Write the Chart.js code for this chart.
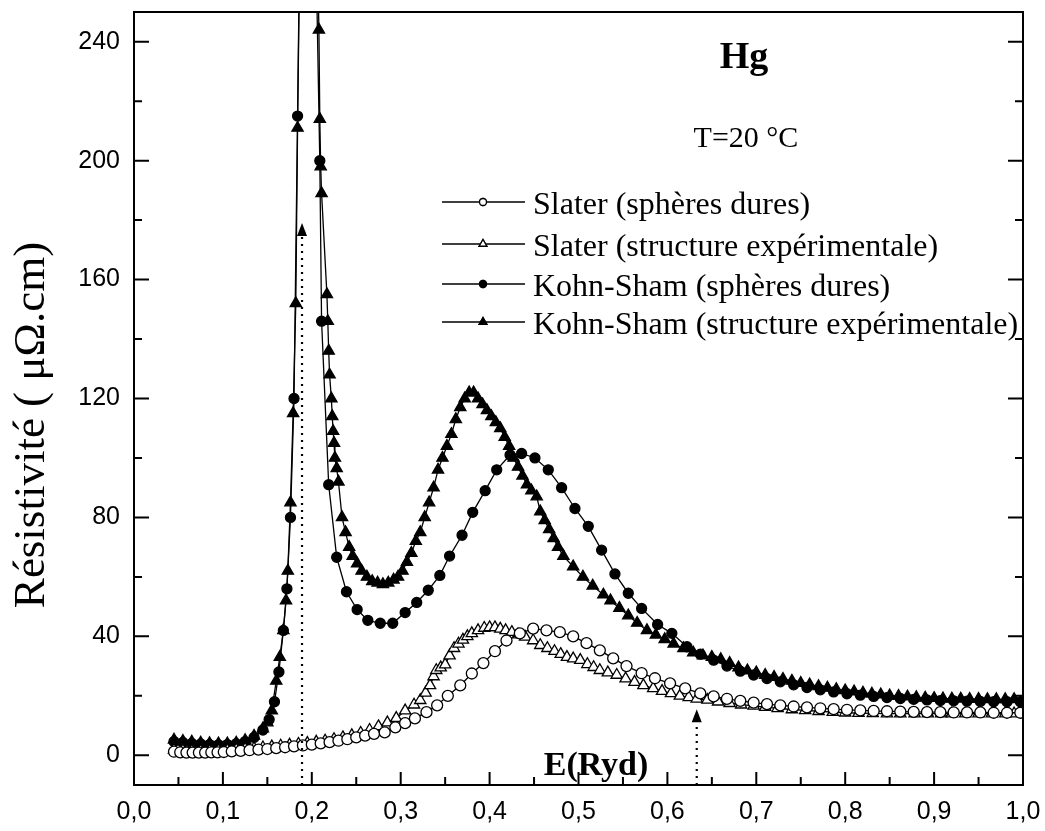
<!DOCTYPE html>
<html><head><meta charset="utf-8">
<script src="https://cdn.jsdelivr.net/npm/chart.js@4"></script>
<style>html,body{margin:0;padding:0;background:#fff;overflow:hidden}</style>
</head><body>
<canvas id="c" width="1045" height="831"></canvas>
<script>
// ---------- data ----------
const seriesLabels = ['Slater (sphères dures)', 'Slater (structure expérimentale)', 'Kohn-Sham (sphères dures)', 'Kohn-Sham (structure expérimentale)'];

const slaterHsX = [0.045,0.052,0.059,0.066,0.073,0.080,0.087,0.094,0.101,0.110,0.120,0.130,0.140,0.150,0.160,0.170,0.180,0.190,0.200,0.210,0.220,0.230,0.240,0.250,0.260,0.270,0.282,0.294,0.305,0.316,0.329,0.341,0.353,0.367,0.380,0.393,0.406,0.419,0.434,0.449,0.464,0.479,0.494,0.509,0.524,0.539,0.554,0.571,0.586,0.603,0.620,0.637,0.652,0.667,0.682,0.697,0.712,0.727,0.742,0.757,0.772,0.787,0.802,0.817,0.832,0.847,0.862,0.877,0.892,0.907,0.922,0.937,0.952,0.967,0.982,0.997];
const slaterHsY = [1.2,1.0,0.9,0.9,0.9,0.9,1.0,1.0,1.1,1.3,1.5,1.7,1.9,2.1,2.4,2.7,3.0,3.3,3.6,4.0,4.4,4.9,5.4,6.0,6.6,7.2,7.7,9.4,10.8,12.4,14.5,16.8,20,23.5,27.5,31,35,38.6,41,42.6,42,41.4,40,37.7,35.3,32.6,30,27.6,25.9,24.2,22.5,20.8,19.8,19,18.3,17.7,17.2,16.8,16.4,16.1,15.8,15.5,15.3,15.1,14.9,14.8,14.7,14.6,14.5,14.5,14.4,14.4,14.4,14.3,14.3,14.3];

const slaterExpX = [0.045,0.055,0.065,0.075,0.085,0.095,0.105,0.115,0.125,0.135,0.145,0.155,0.165,0.175,0.185,0.195,0.205,0.215,0.225,0.235,0.245,0.255,0.265,0.275,0.285,0.295,0.305,0.315,0.322,0.328,0.333,0.337,0.340,0.345,0.350,0.355,0.360,0.365,0.370,0.375,0.380,0.387,0.394,0.400,0.406,0.412,0.418,0.425,0.432,0.440,0.449,0.457,0.465,0.473,0.480,0.487,0.494,0.502,0.510,0.517,0.524,0.533,0.543,0.553,0.563,0.573,0.584,0.594,0.604,0.614,0.624,0.633,0.645,0.657,0.670,0.683,0.697,0.710,0.724,0.740,0.755,0.770,0.786,0.800,0.815,0.831,0.847,0.862,0.878,0.893,0.908,0.920,0.935,0.950,0.965,0.980,0.990];
const slaterExpY = [1.8,1.6,1.5,1.5,1.5,1.6,1.7,1.9,2.1,2.3,2.6,2.9,3.2,3.5,3.8,4.1,4.5,4.9,5.4,6.0,6.7,7.5,8.5,9.7,11,12.5,15,17,18.5,21,23.5,26.5,28.6,29.5,30.5,33.5,36,37.5,38.8,40,41,42,42.8,43,43,42.5,42,41.4,40.6,39.8,38.6,37,36,35,34,33,32.5,32,30.6,29.6,28.6,27.8,27,25.8,24.6,23.5,22.5,21.6,20.8,20,19.5,19,18.6,18,17.5,17,16.6,16.2,15.8,15.4,15.1,14.8,14.5,14.3,14.2,14.1,14,14,14,14,14,14,14,14,14,14,14];

const ksHsX = [0.045,0.055,0.065,0.075,0.085,0.095,0.105,0.115,0.125,0.135,0.145,0.152,0.158,0.163,0.168,0.172,0.176,0.180,0.184,0.187,0.198,0.209,0.211,0.219,0.228,0.239,0.251,0.263,0.277,0.291,0.305,0.318,0.331,0.344,0.355,0.369,0.381,0.395,0.408,0.423,0.436,0.451,0.466,0.481,0.496,0.511,0.526,0.541,0.556,0.571,0.589,0.605,0.622,0.637,0.652,0.667,0.682,0.697,0.712,0.727,0.742,0.757,0.772,0.787,0.802,0.817,0.832,0.847,0.862,0.877,0.892,0.907,0.922,0.937,0.952,0.967,0.982,0.997];
const ksHsY = [4.6,4.3,4.0,3.8,3.6,3.5,3.6,3.9,4.6,6,8.5,12,18,28,42,56,80,120,215,290,380,200,146,91,66.6,55,49,45.4,44.4,44.4,48,51.4,55.5,60.5,67,74,81.7,89,96,101,101.5,100,96,90,83,77,69,61,54.5,49.4,44,41,36.5,34,32,30,28.3,27,25.8,24.7,23.7,22.8,22,21.3,20.7,20.2,19.8,19.4,19.1,18.8,18.6,18.4,18.3,18.2,18.1,18,18,18];

const ksExpX = [0.045,0.055,0.065,0.075,0.085,0.095,0.105,0.115,0.125,0.135,0.145,0.150,0.155,0.160,0.164,0.168,0.171,0.173,0.176,0.179,0.182,0.184,0.186,0.197,0.208,0.209,0.210,0.211,0.217,0.218,0.219,0.220,0.222,0.223,0.224,0.225,0.226,0.228,0.230,0.234,0.238,0.242,0.246,0.251,0.256,0.262,0.268,0.274,0.280,0.286,0.292,0.297,0.302,0.307,0.312,0.317,0.322,0.327,0.332,0.337,0.342,0.347,0.352,0.357,0.362,0.367,0.372,0.377,0.382,0.387,0.392,0.397,0.402,0.407,0.412,0.417,0.422,0.427,0.432,0.437,0.442,0.447,0.453,0.457,0.462,0.467,0.472,0.477,0.483,0.494,0.505,0.516,0.528,0.536,0.546,0.556,0.566,0.577,0.587,0.597,0.607,0.618,0.629,0.640,0.650,0.660,0.670,0.680,0.690,0.700,0.710,0.720,0.730,0.740,0.750,0.760,0.770,0.780,0.790,0.800,0.810,0.820,0.830,0.840,0.850,0.860,0.870,0.880,0.890,0.900,0.910,0.920,0.930,0.940,0.950,0.960,0.970,0.980,0.990];
const ksExpY = [5.2,4.8,4.5,4.2,4.0,3.9,3.9,4.2,5.0,6.5,9,11,15,25,33,42,52,62,85,115,152,211,260,420,244,214,198,189,155,146,136,128,120,114,109,105,100,96.5,92,80,75,70,67,64.5,62,60,58.5,58,57.5,58,59,60,62,65,68,72,75,80,85,90,96,100,104,108,113,117,120,122,122,120,118,116,114,112,110,107,104,100,97,94,91,89,87,82,79,76,73,70,67,63.5,60,57,54,52,49.5,47,44.5,42,40.5,39,37.5,36,34.5,33.5,33,32.3,31,29.5,28.5,27.8,27,26.3,25.6,25,24.3,23.8,23.2,22.7,22.2,21.8,21.4,21,20.7,20.4,20.1,19.9,19.7,19.5,19.3,19.2,19.1,19,19,18.9,18.9,18.8,18.8,18.8,18.8];

const xTickValues = [0,0.1,0.2,0.3,0.4,0.5,0.6,0.7,0.8,0.9,1.0];
const xMinorValues = [0.05,0.15,0.25,0.35,0.45,0.55,0.65,0.75,0.85,0.95];
const yTickValues = [0,40,80,120,160,200,240];
const yMinorValues = [20,60,100,140,180,220];
const arrowX = [0.189, 0.633];
const arrowTip = [179, 15.5];

const yTitle = 'Résistivité ( μΩ.cm)';
const xTitle = 'E(Ryd)';
const annotTitle = 'Hg';
const annotTemp = 'T=20 °C';

// ---------- build ----------
function pts(xs, ys){ return xs.map((x,i)=>({x:x, y:ys[i]})); }
const styles = [
  {pointStyle:'circle', radius:5.5, bg:'#fff'},
  {pointStyle:'triangle', radius:6.5, bg:'#fff'},
  {pointStyle:'circle', radius:5, bg:'#000'},
  {pointStyle:'triangle', radius:6.5, bg:'#000'}
];
const seriesData = [pts(slaterHsX,slaterHsY), pts(slaterExpX,slaterExpY), pts(ksHsX,ksHsY), pts(ksExpX,ksExpY)];
const datasets = seriesData.map((d,i)=>({
  label: seriesLabels[i], data: d, showLine: true,
  borderColor:'#000', borderWidth:1.3,
  pointStyle: styles[i].pointStyle, pointRadius: styles[i].radius,
  pointBackgroundColor: styles[i].bg, pointBorderColor:'#000', pointBorderWidth:1.3,
  tension:0
}));

const serif = "'Liberation Serif','Times New Roman',serif";
const sans = "'Liberation Sans',Arial,sans-serif";

const decor = {
  id:'decor',
  afterDraw(chart){
    const ctx = chart.ctx, a = chart.chartArea;
    const xs = chart.scales.x, ys = chart.scales.y;
    ctx.save();
    ctx.strokeStyle='#000'; ctx.fillStyle='#000';
    // frame
    ctx.lineWidth = 2;
    ctx.strokeRect(a.left, a.top, a.right-a.left, a.bottom-a.top);
    // inward ticks
    ctx.lineWidth = 2;
    ctx.beginPath();
    yTickValues.forEach(v=>{ const p=ys.getPixelForValue(v);
      ctx.moveTo(a.left,p); ctx.lineTo(a.left+15,p);
      ctx.moveTo(a.right,p); ctx.lineTo(a.right-15,p); });
    yMinorValues.forEach(v=>{ const p=ys.getPixelForValue(v);
      ctx.moveTo(a.left,p); ctx.lineTo(a.left+8,p);
      ctx.moveTo(a.right,p); ctx.lineTo(a.right-8,p); });
    xTickValues.forEach(v=>{ const p=xs.getPixelForValue(v);
      ctx.moveTo(p,a.bottom); ctx.lineTo(p,a.bottom-13); });
    xMinorValues.forEach(v=>{ const p=xs.getPixelForValue(v);
      ctx.moveTo(p,a.bottom); ctx.lineTo(p,a.bottom-8); });
    ctx.stroke();
    // dotted arrows
    arrowX.forEach((xv,i)=>{
      const px = xs.getPixelForValue(xv);
      const tip = ys.getPixelForValue(arrowTip[i]);
      ctx.save();
      ctx.setLineDash([2,5]); ctx.lineWidth=2.2;
      ctx.beginPath(); ctx.moveTo(px, a.bottom); ctx.lineTo(px, tip+12); ctx.stroke();
      ctx.restore();
      ctx.beginPath(); ctx.moveTo(px, tip); ctx.lineTo(px-5, tip+13); ctx.lineTo(px+5, tip+13); ctx.closePath(); ctx.fill();
    });
    // y title
    ctx.save();
    ctx.translate(44, 425); ctx.rotate(-Math.PI/2);
    ctx.font = '45px '+serif; ctx.textAlign='center'; ctx.textBaseline='alphabetic';
    ctx.fillText(yTitle, 0, 0);
    ctx.restore();
    // annotations
    ctx.textAlign='center'; ctx.textBaseline='alphabetic';
    ctx.font = 'bold 38px '+serif; ctx.fillText(annotTitle, 744, 68);
    ctx.font = '30px '+serif; ctx.fillText(annotTemp, 746, 147);
    ctx.font = 'bold 34px '+serif; ctx.fillText(xTitle, 596, 775);
    // legend
    const rows = [202, 244, 284, 322];
    ctx.textAlign='left';
    chart.data.datasets.forEach((ds,i)=>{
      const y = rows[i];
      ctx.lineWidth = 1.3; ctx.strokeStyle='#000';
      ctx.beginPath(); ctx.moveTo(442,y); ctx.lineTo(525,y); ctx.stroke();
      ctx.fillStyle = ds.pointBackgroundColor; ctx.strokeStyle='#000'; ctx.lineWidth=1.3;
      Chart.helpers.drawPoint(ctx, {pointStyle: ds.pointStyle, radius: ds.pointStyle==='circle'?3.5:4.5, borderWidth:1.3}, 483, y);
      ctx.fill(); ctx.stroke();
      ctx.fillStyle='#000';
      ctx.font = '32px '+serif;
      ctx.fillText(ds.label, 533, y+12);
    });
    ctx.restore();
  }
};

new Chart(document.getElementById('c'), {
  type:'scatter',
  data:{datasets},
  options:{
    responsive:false, animation:false, devicePixelRatio:1,
    layout:{padding:{left:0, top:12, right:22, bottom:0}},
    plugins:{legend:{display:false}, tooltip:{enabled:false}},
    scales:{
      x:{type:'linear', min:0, max:1,
        grid:{display:false, drawTicks:false}, border:{display:false},
        afterBuildTicks(s){ s.ticks = xTickValues.map(v=>({value:v})); },
        afterFit(s){ s.height = 46; s.paddingLeft = 0; s.paddingRight = 0; s.paddingTop = 0; s.paddingBottom = 0; },
        ticks:{padding:12, color:'#000', font:{family:sans, size:25}, maxRotation:0, autoSkip:false,
          callback:(v)=>Number(v).toFixed(1).replace('.', ',')}
      },
      y:{type:'linear', min:-10, max:250,
        grid:{display:false, drawTicks:false}, border:{display:false},
        afterBuildTicks(s){ s.ticks = yTickValues.map(v=>({value:v})); },
        afterFit(s){ s.width = 134; s.paddingLeft = 0; s.paddingRight = 0; s.paddingTop = 0; s.paddingBottom = 0; },
        ticks:{padding:14, color:'#000', font:{family:sans, size:25}, autoSkip:false,
          callback:(v)=>String(v)}
      }
    }
  },
  plugins:[decor]
});
</script>
</body></html>
